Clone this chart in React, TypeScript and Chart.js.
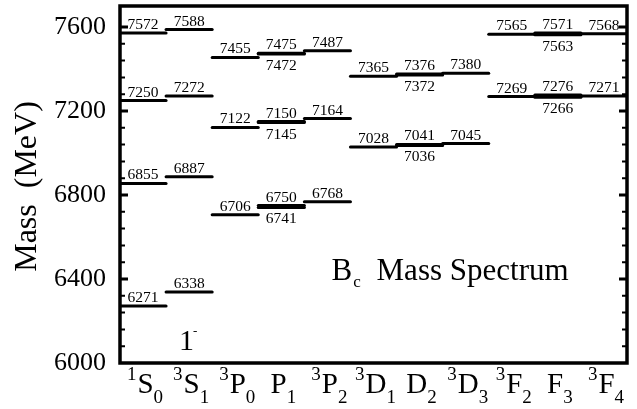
import React, { useEffect, useRef } from 'react';
import { Chart, registerables } from 'chart.js';

Chart.register(...registerables);

// ---- data ----
const categories = ['1S0', '3S1', '3P0', 'P1', '3P2', '3D1', 'D2', '3D3', '3F2', 'F3', '3F4'];
const labelSup = ['1', '3', '3', '', '3', '3', '', '3', '3', '', '3'];
const labelBase = ['S', 'S', 'P', 'P', 'P', 'D', 'D', 'D', 'F', 'F', 'F'];
const labelSub = ['0', '1', '0', '1', '2', '1', '2', '3', '2', '3', '4'];

// masses whose value label sits above the level line
const massesUpper: number[][] = [
  [6271, 6855, 7250, 7572],
  [6338, 6887, 7272, 7588],
  [6706, 7122, 7455],
  [6750, 7150, 7475],
  [6768, 7164, 7487],
  [7028, 7365],
  [7041, 7376],
  [7045, 7380],
  [7269, 7565],
  [7276, 7571],
  [7271, 7568],
];
// masses (mixed states) whose value label sits below the level line
const massesLower: number[][] = [
  [], [], [],
  [6741, 7145, 7472],
  [], [],
  [7036, 7372],
  [], [],
  [7266, 7563],
  [],
];

const yTickLabels = [6000, 6400, 6800, 7200, 7600];
const yMin = 6000;
const yMax = 7700;
const minorStep = 80;

const SERIF = "'Liberation Serif'";

function buildDatasets() {
  const ds: any[] = [];
  categories.forEach((_, i) => {
    [...massesUpper[i], ...massesLower[i]].forEach((m) => {
      ds.push({
        data: [
          { x: i - 0.5, y: m },
          { x: i + 0.5, y: m },
        ],
        showLine: true,
        borderColor: '#000',
        backgroundColor: '#000',
        borderWidth: 3,
        pointRadius: 0,
        pointHoverRadius: 0,
        borderCapStyle: 'round',
        fill: false,
      });
    });
  });
  return ds;
}

const decorPlugin = {
  id: 'decor',
  afterDatasetsDraw(chart: any) {
    const { ctx, scales } = chart;
    const x = scales.x;
    const y = scales.y;
    ctx.save();
    ctx.fillStyle = '#000';
    ctx.font = `15.5px ${SERIF}`;
    ctx.textAlign = 'center';
    ctx.textBaseline = 'alphabetic';
    categories.forEach((_, i) => {
      const cx = x.getPixelForValue(i);
      massesUpper[i].forEach((m) => {
        ctx.fillText(String(m), cx, y.getPixelForValue(m) - 4);
      });
      massesLower[i].forEach((m) => {
        ctx.fillText(String(m), cx, y.getPixelForValue(m) + 16);
      });
    });
    ctx.restore();
  },
  afterDraw(chart: any) {
    const { ctx, chartArea: a, scales } = chart;
    const x = scales.x;
    const y = scales.y;
    ctx.save();
    // frame
    ctx.strokeStyle = '#000';
    ctx.lineWidth = 3.5;
    ctx.strokeRect(a.left, a.top, a.right - a.left, a.bottom - a.top);
    // inward ticks left and right
    y.ticks.forEach((t: any) => {
      const v = t.value;
      if (v >= yMax || v <= yMin) return;
      if ((v - yMin) % minorStep !== 0) return;
      const major = yTickLabels.includes(v);
      const py = y.getPixelForValue(v);
      const len = major ? 8 : 5;
      ctx.lineWidth = major ? 3 : 2;
      ctx.beginPath();
      ctx.moveTo(a.left, py);
      ctx.lineTo(a.left + len, py);
      ctx.moveTo(a.right, py);
      ctx.lineTo(a.right - len, py);
      ctx.stroke();
    });

    ctx.fillStyle = '#000';
    ctx.textBaseline = 'alphabetic';
    ctx.textAlign = 'left';

    // x category labels with super/subscripts
    const baseY = a.bottom + 30;
    categories.forEach((_, i) => {
      const cx = x.getPixelForValue(i) + 2;
      ctx.font = `19px ${SERIF}`;
      const wSup = labelSup[i] ? ctx.measureText(labelSup[i]).width + 1 : 0;
      const wSub = ctx.measureText(labelSub[i]).width;
      ctx.font = `29px ${SERIF}`;
      const wBase = ctx.measureText(labelBase[i]).width;
      let px = cx - (wSup + wBase + wSub) / 2;
      if (labelSup[i]) {
        ctx.font = `19px ${SERIF}`;
        ctx.fillText(labelSup[i], px, baseY - 13);
        px += wSup;
      }
      ctx.font = `29px ${SERIF}`;
      ctx.fillText(labelBase[i], px, baseY);
      px += wBase;
      ctx.font = `19px ${SERIF}`;
      ctx.fillText(labelSub[i], px, baseY + 10);
    });

    // y axis title
    ctx.save();
    ctx.translate(36, (a.top + a.bottom) / 2 + 2);
    ctx.rotate(-Math.PI / 2);
    ctx.textAlign = 'center';
    ctx.font = `32px ${SERIF}`;
    ctx.fillText('Mass  (MeV)', 0, 0);
    ctx.restore();

    // "B_c Mass Spectrum" annotation
    const bx = x.getPixelForValue(4.09);
    const by = y.getPixelForValue(6395);
    ctx.font = `31px ${SERIF}`;
    ctx.fillText('B', bx, by);
    const wB = ctx.measureText('B').width;
    ctx.font = `17px ${SERIF}`;
    ctx.fillText('c', bx + wB + 1, by + 7);
    ctx.font = `31px ${SERIF}`;
    ctx.fillText('Mass Spectrum', bx + 45, by);

    // "1-" annotation
    const ox = x.getPixelForValue(0.78);
    const oy = y.getPixelForValue(6062);
    ctx.font = `30px ${SERIF}`;
    ctx.fillText('1', ox, oy);
    const w1 = ctx.measureText('1').width;
    ctx.font = `13px ${SERIF}`;
    ctx.fillText('-', ox + w1 - 1, oy - 15);

    ctx.restore();
  },
};

export default function App() {
  const canvasRef = useRef<HTMLCanvasElement | null>(null);

  useEffect(() => {
    document.body.style.margin = '0';
    const canvas = canvasRef.current;
    if (!canvas) return;
    const chart = new Chart(canvas, {
      type: 'scatter',
      data: { datasets: buildDatasets() },
      options: {
        animation: false,
        responsive: false,
        maintainAspectRatio: false,
        events: [],
        layout: { padding: { top: 6, right: 10, left: 0, bottom: 0 } },
        plugins: {
          legend: { display: false },
          tooltip: { enabled: false },
          title: { display: false },
        },
        scales: {
          x: {
            type: 'linear',
            min: -0.5,
            max: 10.5,
            ticks: { display: false },
            grid: { display: false, drawTicks: false },
            border: { display: false },
            afterFit: (s: any) => {
              s.height = 46;
              s.paddingLeft = 0;
              s.paddingRight = 0;
            },
          },
          y: {
            type: 'linear',
            min: yMin,
            max: yMax,
            ticks: {
              stepSize: minorStep,
              autoSkip: false,
              padding: 14,
              color: '#000',
              font: { family: SERIF, size: 26 },
              callback: (v: any) => (yTickLabels.includes(Number(v)) ? String(v) : ''),
            },
            grid: { display: false, drawTicks: false },
            border: { display: false },
            afterFit: (s: any) => {
              s.width = 120;
              s.paddingTop = 0;
              s.paddingBottom = 0;
            },
          },
        },
      },
      plugins: [decorPlugin],
    } as any);
    return () => chart.destroy();
  }, []);

  return (
    <canvas
      ref={canvasRef}
      width={637}
      height={409}
      style={{ display: 'block', width: 637, height: 409 }}
    />
  );
}
